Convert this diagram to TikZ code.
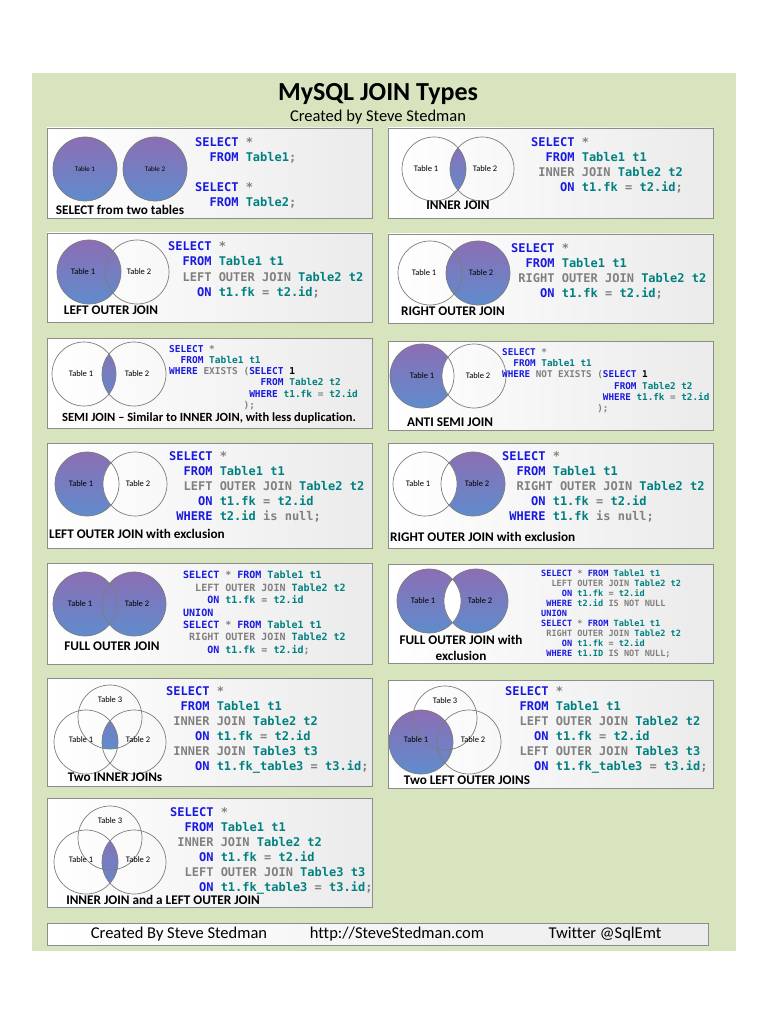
\documentclass[tikz,border=0pt]{standalone}
\usepackage{fontspec}
\setmainfont{Carlito}[Ligatures=NoCommon]
\newfontfamily\codefont{DejaVu Sans Mono}
\usetikzlibrary{positioning}
\definecolor{bggreen}{RGB}{215,228,189}
\definecolor{kwblue}{RGB}{25,25,225}
\definecolor{tbteal}{RGB}{0,128,128}
\definecolor{opgray}{RGB}{128,128,128}
\definecolor{panelgray}{RGB}{140,140,140}
\definecolor{cgray}{RGB}{125,125,125}
\definecolor{jtop}{RGB}{140,110,180}
\definecolor{jbot}{RGB}{95,140,205}
\newcommand{\sqk}[1]{\textcolor{kwblue}{#1}}
\newcommand{\sqt}[1]{\textcolor{tbteal}{#1}}
\newcommand{\sqg}[1]{\textcolor{opgray}{#1}}
\newcommand{\sqi}[1]{\hspace*{#1\fontcharwd\font`M}}
\begin{document}
\begin{tikzpicture}[x=1pt,y=-1pt,
  panel/.style={draw=panelgray,line width=0.8pt,left color=white,right color=black!8},
  jfill/.style={top color=jtop,bottom color=jbot},
  circ/.style={circle,draw=cgray,line width=0.7pt,minimum size=64pt,inner sep=0pt},
  lab/.style={font=\fontsize{8.5}{10}\selectfont,inner sep=0pt},
  capt/.style={font=\bfseries\fontsize{13.2}{15}\selectfont,inner sep=0pt},
  foot/.style={font=\fontsize{16.5}{19}\selectfont,inner sep=0pt},
  code/.style 2 args={anchor=north west,inner sep=0pt,align=left,font=\codefont\bfseries\fontsize{#1}{#2}\selectfont}]
\path[use as bounding box,fill=white] (0,0) rectangle (768,1024);
\fill[bggreen] (32,73) rectangle (736,951);
\node[font=\bfseries\fontsize{26}{30}\selectfont,inner sep=0pt] (title) at (378,94) {MySQL JOIN Types};
\node[font=\fontsize{16.5}{19}\selectfont,inner sep=0pt,below=5pt of title] (sub) {Created by Steve Stedman};
% select from two tables
\path[panel] (47,128) rectangle (372,218);
\coordinate (a1) at (85,169); \coordinate (b1) at (155,169);
\shade[jfill] (a1) circle (32); \shade[jfill] (b1) circle (32);
\node[circ] (ca1) at (a1) {}; \node[circ] (cb1) at (b1) {};
\node[lab,font=\fontsize{7}{8}\selectfont] (la1) at (a1) {Table 1};
\node[lab,font=\fontsize{7}{8}\selectfont] (lb1) at (b1) {Table 2};
\node[capt] (n1) at (120,210) {SELECT from two tables};
\node[code={12}{15}] (q1) at (195,137) {\sqk{SELECT} \sqg{*}\\
\sqi2\sqk{FROM} \sqt{Table1}\sqg{;}\\[15pt]
\sqk{SELECT} \sqg{*}\\
\sqi2\sqk{FROM} \sqt{Table2}\sqg{;}};
% inner join
\path[panel] (388,128) rectangle (713,218);
\coordinate (a2) at (434,169); \coordinate (b2) at (482,169);
\begin{scope} \clip (b2) circle (32); \shade[jfill] (a2) circle (32); \end{scope}
\node[circ] (ca2) at (a2) {}; \node[circ] (cb2) at (b2) {};
\node[lab] (la2) at ([xshift=-8]a2) {Table 1}; \node[lab] (lb2) at ([xshift=3]b2) {Table 2};
\node[capt] (n2) at (458,205) {INNER JOIN};
\node[code={12}{15}] (q2) at (531,137) {\sqk{SELECT} \sqg{*}\\
\sqi2\sqk{FROM} \sqt{Table1 t1}\\
\sqi1\sqg{INNER JOIN} \sqt{Table2 t2}\\
\sqi4\sqk{ON} \sqt{t1.fk} \sqg{=} \sqt{t2.id}\sqg{;}};
% left outer join
\path[panel] (47,233) rectangle (372,322);
\coordinate (a3) at (89,272); \coordinate (b3) at (137,272);
\shade[jfill] (a3) circle (32);
\node[circ] (ca3) at (a3) {}; \node[circ] (cb3) at (b3) {};
\node[lab] (la3) at ([xshift=-6]a3) {Table 1}; \node[lab] (lb3) at ([xshift=2]b3) {Table 2};
\node[capt] (n3) at (111,310) {LEFT OUTER JOIN};
\node[code={12}{15.5}] (q3) at (168,241) {\sqk{SELECT} \sqg{*}\\
\sqi2\sqk{FROM} \sqt{Table1 t1}\\
\sqi2\sqg{LEFT OUTER JOIN} \sqt{Table2 t2}\\
\sqi4\sqk{ON} \sqt{t1.fk} \sqg{=} \sqt{t2.id}\sqg{;}};
% right outer join
\path[panel] (388,234) rectangle (713,323);
\coordinate (a4) at (430,273); \coordinate (b4) at (478,273);
\shade[jfill] (b4) circle (32);
\node[circ] (ca4) at (a4) {}; \node[circ] (cb4) at (b4) {};
\node[lab] (la4) at ([xshift=-6]a4) {Table 1}; \node[lab] (lb4) at ([xshift=3]b4) {Table 2};
\node[capt] (n4) at (453,311) {RIGHT OUTER JOIN};
\node[code={12}{15}] (q4) at (511,243) {\sqk{SELECT} \sqg{*}\\
\sqi2\sqk{FROM} \sqt{Table1 t1}\\
\sqi1\sqg{RIGHT OUTER JOIN} \sqt{Table2 t2}\\
\sqi4\sqk{ON} \sqt{t1.fk} \sqg{=} \sqt{t2.id}\sqg{;}};
% semi join
\path[panel] (47,338) rectangle (372,428);
\coordinate (a5) at (84,374); \coordinate (b5) at (134,374);
\begin{scope} \clip (b5) circle (32); \shade[jfill] (a5) circle (32); \end{scope}
\node[circ] (ca5) at (a5) {}; \node[circ] (cb5) at (b5) {};
\node[lab] (la5) at ([xshift=-3]a5) {Table 1}; \node[lab] (lb5) at ([xshift=3]b5) {Table 2};
\node[capt,font=\bfseries\fontsize{12.5}{15}\selectfont] (n5) at (209,418) {SEMI JOIN – Similar to INNER JOIN, with less duplication.};
\node[code={9.5}{11.2}] (q5) at (169,345) {\sqk{SELECT} \sqg{*}\\
\sqi2\sqk{FROM} \sqt{Table1 t1}\\
\sqk{WHERE} \sqg{EXISTS (}\sqk{SELECT} 1\\
\sqi{16}\sqk{FROM} \sqt{Table2 t2}\\
\sqi{14}\sqk{WHERE} \sqt{t1.fk} \sqg{=} \sqt{t2.id}\\
\sqi{13}\sqg{);}};
% anti semi join
\path[panel] (388,341) rectangle (713,430);
\coordinate (a6) at (422,376); \coordinate (b6) at (474,376);
\shade[jfill] (a6) circle (32);
\begin{scope} \clip (b6) circle (32); \fill[white] (a6) circle (32); \end{scope}
\node[circ] (ca6) at (a6) {}; \node[circ] (cb6) at (b6) {};
\node[lab] (la6) at (a6) {Table 1}; \node[lab] (lb6) at ([xshift=4]b6) {Table 2};
\node[capt] (n6) at (450,422) {ANTI SEMI JOIN};
\node[code={9.3}{11.3}] (q6) at (502,348) {\sqk{SELECT} \sqg{*}\\
\sqi2\sqk{FROM} \sqt{Table1 t1}\\
\sqk{WHERE} \sqg{NOT EXISTS (}\sqk{SELECT} 1\\
\sqi{20}\sqk{FROM} \sqt{Table2 t2}\\
\sqi{18}\sqk{WHERE} \sqt{t1.fk} \sqg{=} \sqt{t2.id}\\
\sqi{17}\sqg{);}};
% left outer join with exclusion
\path[panel] (47,443) rectangle (372,548);
\coordinate (a7) at (87,484); \coordinate (b7) at (135,484);
\shade[jfill] (a7) circle (32);
\begin{scope} \clip (b7) circle (32); \fill[white] (a7) circle (32); \end{scope}
\node[circ] (ca7) at (a7) {}; \node[circ] (cb7) at (b7) {};
\node[lab] (la7) at ([xshift=-6]a7) {Table 1}; \node[lab] (lb7) at ([xshift=3]b7) {Table 2};
\node[capt,anchor=west] (n7) at (49,534) {LEFT OUTER JOIN with exclusion};
\node[code={12}{15}] (q7) at (169,451) {\sqk{SELECT} \sqg{*}\\
\sqi2\sqk{FROM} \sqt{Table1 t1}\\
\sqi2\sqg{LEFT OUTER JOIN} \sqt{Table2 t2}\\
\sqi4\sqk{ON} \sqt{t1.fk} \sqg{=} \sqt{t2.id}\\
\sqi1\sqk{WHERE} \sqt{t2.id} \sqg{is null;}};
% right outer join with exclusion
\path[panel] (388,443) rectangle (713,548);
\coordinate (a8) at (425,484); \coordinate (b8) at (473,484);
\shade[jfill] (b8) circle (32);
\begin{scope} \clip (a8) circle (32); \fill[white] (b8) circle (32); \end{scope}
\node[circ] (ca8) at (a8) {}; \node[circ] (cb8) at (b8) {};
\node[lab] (la8) at ([xshift=-7]a8) {Table 1}; \node[lab] (lb8) at ([xshift=4]b8) {Table 2};
\node[capt,anchor=west] (n8) at (390,537) {RIGHT OUTER JOIN with exclusion};
\node[code={12}{15}] (q8) at (502,451) {\sqk{SELECT} \sqg{*}\\
\sqi2\sqk{FROM} \sqt{Table1 t1}\\
\sqi2\sqg{RIGHT OUTER JOIN} \sqt{Table2 t2}\\
\sqi4\sqk{ON} \sqt{t1.fk} \sqg{=} \sqt{t2.id}\\
\sqi1\sqk{WHERE} \sqt{t1.fk} \sqg{is null;}};
% full outer join
\path[panel] (47,563) rectangle (372,664);
\coordinate (a9) at (85,604); \coordinate (b9) at (134,604);
\shade[jfill] (a9) circle (32); \shade[jfill] (b9) circle (32);
\node[circ] (ca9) at (a9) {}; \node[circ] (cb9) at (b9) {};
\node[lab] (la9) at ([xshift=-5]a9) {Table 1}; \node[lab] (lb9) at ([xshift=3]b9) {Table 2};
\node[capt] (n9) at (112,646) {FULL OUTER JOIN};
\node[code={10}{12.4}] (q9) at (183,571) {\sqk{SELECT} \sqg{*} \sqk{FROM} \sqt{Table1 t1}\\
\sqi2\sqg{LEFT OUTER JOIN} \sqt{Table2 t2}\\
\sqi4\sqk{ON} \sqt{t1.fk} \sqg{=} \sqt{t2.id}\\
\sqk{UNION}\\
\sqk{SELECT} \sqg{*} \sqk{FROM} \sqt{Table1 t1}\\
\sqi1\sqg{RIGHT OUTER JOIN} \sqt{Table2 t2}\\
\sqi4\sqk{ON} \sqt{t1.fk} \sqg{=} \sqt{t2.id}\sqg{;}};
% full outer join with exclusion
\path[panel] (388,564) rectangle (713,663);
\coordinate (a10) at (429,601); \coordinate (b10) at (476,601);
\shade[jfill] (a10) circle (32); \shade[jfill] (b10) circle (32);
\begin{scope} \clip (b10) circle (32); \fill[white] (a10) circle (32); \end{scope}
\node[circ] (ca10) at (a10) {}; \node[circ] (cb10) at (b10) {};
\node[lab] (la10) at ([xshift=-6]a10) {Table 1}; \node[lab] (lb10) at ([xshift=4]b10) {Table 2};
\node[capt,align=center] (n10) at (461,648) {FULL OUTER JOIN with\\[1pt]exclusion};
\node[code={8.6}{10}] (q10) at (541,570) {\sqk{SELECT} \sqg{*} \sqk{FROM} \sqt{Table1 t1}\\
\sqi2\sqg{LEFT OUTER JOIN} \sqt{Table2 t2}\\
\sqi4\sqk{ON} \sqt{t1.fk} \sqg{=} \sqt{t2.id}\\
\sqi1\sqk{WHERE} \sqt{t2.id} \sqg{IS NOT NULL}\\
\sqk{UNION}\\
\sqk{SELECT} \sqg{*} \sqk{FROM} \sqt{Table1 t1}\\
\sqi1\sqg{RIGHT OUTER JOIN} \sqt{Table2 t2}\\
\sqi4\sqk{ON} \sqt{t1.fk} \sqg{=} \sqt{t2.id}\\
\sqi1\sqk{WHERE} \sqt{t1.ID} \sqg{IS NOT NULL;}};
% two inner joins
\path[panel] (47,678) rectangle (372,786);
\coordinate (c11) at (110,717); \coordinate (a11) at (86,742); \coordinate (b11) at (134,742);
\begin{scope} \clip (a11) circle (32); \clip (b11) circle (32); \shade[jfill] (c11) circle (32); \end{scope}
\node[circ] (cc11) at (c11) {}; \node[circ] (ca11) at (a11) {}; \node[circ] (cb11) at (b11) {};
\node[lab] (lc11) at ([yshift=17]c11) {Table 3};
\node[lab] (la11) at ([xshift=-5,yshift=2]a11) {Table 1}; \node[lab] (lb11) at ([xshift=4,yshift=2]b11) {Table 2};
\node[capt] (n11) at (115,777) {Two INNER JOINs};
\node[code={12}{15}] (q11) at (166,686) {\sqk{SELECT} \sqg{*}\\
\sqi2\sqk{FROM} \sqt{Table1 t1}\\
\sqi1\sqg{INNER JOIN} \sqt{Table2 t2}\\
\sqi4\sqk{ON} \sqt{t1.fk} \sqg{=} \sqt{t2.id}\\
\sqi1\sqg{INNER JOIN} \sqt{Table3 t3}\\
\sqi4\sqk{ON} \sqt{t1.fk\_table3} \sqg{=} \sqt{t3.id}\sqg{;}};
% two left outer joins
\path[panel] (388,680) rectangle (713,788);
\coordinate (c12) at (445,718); \coordinate (a12) at (421,742); \coordinate (b12) at (469,742);
\shade[jfill] (a12) circle (32);
\node[circ] (cc12) at (c12) {}; \node[circ] (ca12) at (a12) {}; \node[circ] (cb12) at (b12) {};
\node[lab] (lc12) at ([yshift=17]c12) {Table 3};
\node[lab] (la12) at ([xshift=-5,yshift=2]a12) {Table 1}; \node[lab] (lb12) at ([xshift=4,yshift=2]b12) {Table 2};
\node[capt] (n12) at (467,780) {Two LEFT OUTER JOINS};
\node[code={12}{15}] (q12) at (505,686) {\sqk{SELECT} \sqg{*}\\
\sqi2\sqk{FROM} \sqt{Table1 t1}\\
\sqi2\sqg{LEFT OUTER JOIN} \sqt{Table2 t2}\\
\sqi4\sqk{ON} \sqt{t1.fk} \sqg{=} \sqt{t2.id}\\
\sqi2\sqg{LEFT OUTER JOIN} \sqt{Table3 t3}\\
\sqi4\sqk{ON} \sqt{t1.fk\_table3} \sqg{=} \sqt{t3.id}\sqg{;}};
% inner join and a left outer join
\path[panel] (47,798) rectangle (372,907);
\coordinate (c13) at (110,838); \coordinate (a13) at (86,862); \coordinate (b13) at (134,862);
\begin{scope} \clip (b13) circle (32); \shade[jfill] (a13) circle (32); \end{scope}
\node[circ] (cc13) at (c13) {}; \node[circ] (ca13) at (a13) {}; \node[circ] (cb13) at (b13) {};
\node[lab] (lc13) at ([yshift=17]c13) {Table 3};
\node[lab] (la13) at ([xshift=-5,yshift=2]a13) {Table 1}; \node[lab] (lb13) at ([xshift=4,yshift=2]b13) {Table 2};
\node[capt] (n13) at (163,900) {INNER JOIN and a LEFT OUTER JOIN};
\node[code={12}{15}] (q13) at (170,807) {\sqk{SELECT} \sqg{*}\\
\sqi2\sqk{FROM} \sqt{Table1 t1}\\
\sqi1\sqg{INNER JOIN} \sqt{Table2 t2}\\
\sqi4\sqk{ON} \sqt{t1.fk} \sqg{=} \sqt{t2.id}\\
\sqi2\sqg{LEFT OUTER JOIN} \sqt{Table3 t3}\\
\sqi4\sqk{ON} \sqt{t1.fk\_table3} \sqg{=} \sqt{t3.id}\sqg{;}};
% footer
\path[panel] (47,923) rectangle (708,945);
\node[foot] (f1) at (179,934) {Created By Steve Stedman};
\node[foot] (f2) at (397,934) {http://SteveStedman.com};
\node[foot] (f3) at (605,934) {Twitter @SqlEmt};
\end{tikzpicture}
\end{document}
